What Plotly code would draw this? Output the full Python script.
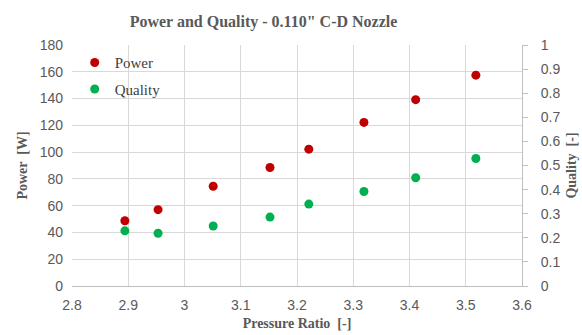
import plotly.graph_objects as go

pressure_ratio = [2.894, 2.953, 3.051, 3.152, 3.221, 3.319, 3.411, 3.518]
power_w = [48.7, 57.0, 74.5, 88.5, 102.2, 122.2, 139.2, 157.5]
quality = [0.229, 0.219, 0.249, 0.286, 0.340, 0.392, 0.449, 0.529]

x_ticks = [2.8, 2.9, 3.0, 3.1, 3.2, 3.3, 3.4, 3.5, 3.6]
x_ticktext = ["2.8", "2.9", "3", "3.1", "3.2", "3.3", "3.4", "3.5", "3.6"]
power_ticks = [0, 20, 40, 60, 80, 100, 120, 140, 160, 180]
quality_ticks = [0, 0.1, 0.2, 0.3, 0.4, 0.5, 0.6, 0.7, 0.8, 0.9, 1]
quality_ticktext = ["0", "0.1", "0.2", "0.3", "0.4", "0.5", "0.6", "0.7", "0.8", "0.9", "1"]

TICK_FONT = dict(family="Liberation Sans", size=14, color="#595959")
TITLE_FONT = dict(family="Liberation Serif", size=14, color="#595959", weight="bold")
GRID = "#d9d9d9"
LINE = "#bfbfbf"

fig = go.Figure()
fig.add_trace(go.Scatter(
    x=pressure_ratio, y=power_w, mode="markers", name="Power",
    marker=dict(color="#c00000", size=9), legendgroup="a",
))
fig.add_trace(go.Scatter(
    x=pressure_ratio, y=quality, mode="markers", name="Quality",
    marker=dict(color="#00b050", size=9), yaxis="y2", legendgroup="b",
))

fig.update_layout(
    width=582, height=335,
    margin=dict(l=72, r=60, t=45, b=49),
    paper_bgcolor="white", plot_bgcolor="white",
    title=dict(
        text="Power and Quality - 0.110\" C-D Nozzle",
        x=263.5 / 582, xanchor="center", y=1 - 21 / 335, yanchor="middle",
        font=dict(family="Liberation Serif", size=16, color="#595959", weight="bold"),
    ),
    xaxis=dict(
        range=[2.8, 3.6], tickvals=x_ticks, ticktext=x_ticktext,
        showgrid=True, gridcolor=GRID, gridwidth=1,
        showline=True, linecolor=LINE, linewidth=1,
        ticks="", tickfont=TICK_FONT, ticklabelstandoff=6,
        zeroline=False, automargin=False,
        title=dict(text="Pressure Ratio  [-]", font=TITLE_FONT, standoff=6),
    ),
    yaxis=dict(
        range=[0, 180], tickvals=power_ticks,
        showgrid=True, gridcolor=GRID, gridwidth=1,
        showline=False, ticks="", tickfont=TICK_FONT, ticklabelstandoff=8,
        zeroline=False, automargin=False,
        title=dict(text="Power  [W]", font=TITLE_FONT, standoff=8),
    ),
    yaxis2=dict(
        range=[0, 1], tickvals=quality_ticks, ticktext=quality_ticktext,
        overlaying="y", side="right",
        showgrid=False, showline=True, linecolor=LINE, linewidth=1,
        ticks="outside", ticklen=5, tickcolor=LINE, tickfont=TICK_FONT,
        ticklabelstandoff=10, zeroline=False, automargin=False,
        title=dict(text="Quality  [-]", font=TITLE_FONT, standoff=6),
    ),
    legend=dict(
        x=0.006, y=0.995, xanchor="left", yanchor="top",
        bgcolor="rgba(0,0,0,0)", traceorder="grouped", tracegroupgap=4,
        font=dict(family="Liberation Serif", size=15, color="#404040"),
        itemwidth=30,
    ),
    showlegend=True,
)

fig.write_html("out.html")
